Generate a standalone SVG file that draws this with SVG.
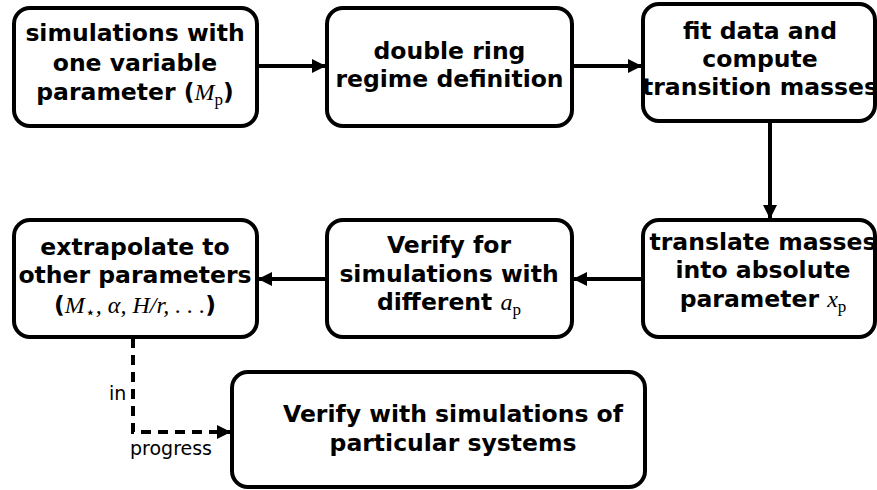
<svg xmlns="http://www.w3.org/2000/svg" width="877" height="490" viewBox="0 0 877 490">
<style>
.box{fill:#fff;stroke:#000;stroke-width:4}
.t{font-family:"DejaVu Sans",Inter,sans-serif;font-weight:700;font-size:23.5px;text-anchor:middle;fill:#000}
.m{font-family:"Liberation Serif",serif;font-weight:400;font-style:italic;font-size:24px}
.s{font-family:"Liberation Serif",serif;font-weight:400;font-style:normal;font-size:17px}
.c{stroke:#000;stroke-width:4;fill:none}
.d{stroke:#000;stroke-width:4;fill:none;stroke-dasharray:10 7}
.l{font-family:"DejaVu Sans",sans-serif;font-size:19px;fill:#000}
</style>
<defs>
<marker id="ah" markerUnits="userSpaceOnUse" markerWidth="14" markerHeight="14" viewBox="0 0 14 14" refX="13" refY="7" orient="auto">
<path d="M0,0 L14,7 L0,14 z" fill="#000"/>
</marker>
</defs>
<g id="connectors">
<line class="c" x1="257" y1="66" x2="325" y2="66" marker-end="url(#ah)"/>
<line class="c" x1="572" y1="66" x2="641" y2="66" marker-end="url(#ah)"/>
<line class="c" x1="770" y1="121" x2="770" y2="218" marker-end="url(#ah)"/>
<line class="c" x1="643" y1="279" x2="574" y2="279" marker-end="url(#ah)"/>
<line class="c" x1="327" y1="279" x2="259" y2="279" marker-end="url(#ah)"/>
<path class="d" d="M133,338 V432 H230" marker-end="url(#ah)"/>
<text class="l" x="109" y="400">in</text>
<text class="l" x="130" y="455">progress</text>
</g>
<g id="n1">
<rect class="box" x="14" y="8" width="243" height="118" rx="16"/>
<text class="t" x="135" y="41">simulations with</text>
<text class="t" x="135" y="71">one variable</text>
<text class="t" x="135" y="100">parameter (<tspan class="m">M</tspan><tspan class="s" dy="5">p</tspan><tspan dy="-5">)</tspan></text>
</g>
<g id="n2">
<rect class="box" x="327" y="8" width="245" height="118" rx="16"/>
<text class="t" x="449.5" y="59">double ring</text>
<text class="t" x="449.5" y="87">regime definition</text>
</g>
<g id="n3">
<rect class="box" x="643" y="4" width="232" height="117" rx="16"/>
<text class="t" x="760" y="39">fit data and</text>
<text class="t" x="760" y="67">compute</text>
<text class="t" x="760" y="95">transition masses</text>
</g>
<g id="n4">
<rect class="box" x="643" y="220" width="232" height="117" rx="16"/>
<text class="t" x="763" y="250">translate masses</text>
<text class="t" x="763" y="278">into absolute</text>
<text class="t" x="763" y="307">parameter <tspan class="m">x</tspan><tspan class="s" dy="5">p</tspan></text>
</g>
<g id="n5">
<rect class="box" x="327" y="220" width="245" height="117" rx="16"/>
<text class="t" x="449" y="253">Verify for</text>
<text class="t" x="449" y="282">simulations with</text>
<text class="t" x="449" y="310">different <tspan class="m">a</tspan><tspan class="s" dy="5">p</tspan></text>
</g>
<g id="n6">
<rect class="box" x="14" y="220" width="243" height="117" rx="16"/>
<text class="t" x="135" y="255">extrapolate to</text>
<text class="t" x="135" y="283">other parameters</text>
<text class="t" x="135" y="313">(<tspan class="m">M</tspan><tspan class="s" dy="5">⋆</tspan><tspan class="m" dy="-5">, α, H/r, . . .</tspan>)</text>
</g>
<g id="n7">
<rect class="box" x="232" y="372" width="413" height="115" rx="16"/>
<text class="t" x="453" y="422">Verify with simulations of</text>
<text class="t" x="453" y="451">particular systems</text>
</g>
</svg>
